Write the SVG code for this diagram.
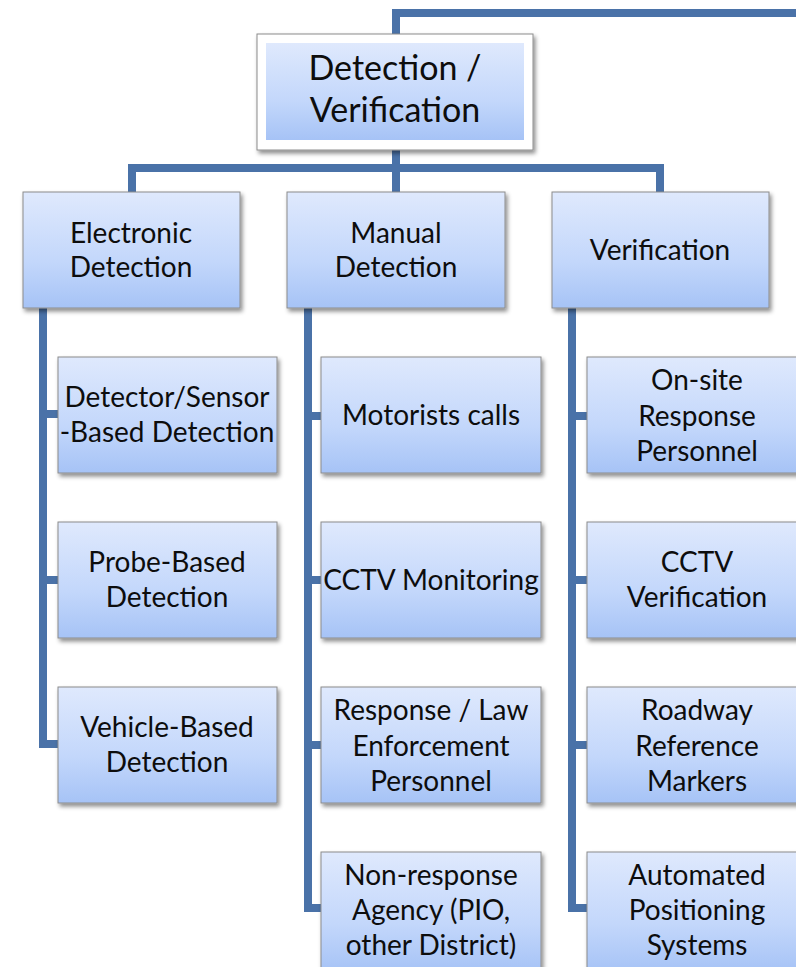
<svg xmlns="http://www.w3.org/2000/svg" width="796" height="967" viewBox="0 0 796 967">
<defs>
<linearGradient id="g" x1="0" y1="0" x2="0" y2="1">
<stop offset="0" stop-color="#dfe9fd"/>
<stop offset="0.6" stop-color="#c3d7fb"/>
<stop offset="1" stop-color="#a6c3f6"/>
</linearGradient>
<filter id="sh" x="-10%" y="-10%" width="130%" height="130%">
<feDropShadow dx="2" dy="3" stdDeviation="2" flood-color="#000" flood-opacity="0.45"/>
</filter>
</defs>
<style>
.c{fill:none;stroke:#4a72a8;stroke-width:8;stroke-linejoin:miter;stroke-linecap:butt}
.b{fill:url(#g);stroke:#8c8c8c;stroke-width:1;filter:url(#sh)}
.t{font-family:Lato,"Open Sans",sans-serif;font-size:28px;fill:#0d0d0d;text-anchor:middle}
.tt{font-family:Lato,"Open Sans",sans-serif;font-size:34px;fill:#0d0d0d;text-anchor:middle}
</style>
<rect width="796" height="967" fill="#fff"/>
<g id="connectors">
<path class="c" d="M396,40 V13 H800"/>
<path class="c" d="M396,145 V196"/>
<path class="c" d="M132,196 V168 H660 V196"/>
<path class="c" d="M43,304 V744 H62 M43,414 H62 M43,580 H62"/>
<path class="c" d="M308,304 V908 H325 M308,416 H325 M308,580 H325 M308,745 H325"/>
<path class="c" d="M572,304 V908 H591 M572,416 H591 M572,580 H591 M572,745 H591"/>
</g>
<g id="top">
<rect x="257" y="34" width="276" height="116" fill="#fff" stroke="#8c8c8c" stroke-width="1" filter="url(#sh)"/>
<rect x="266" y="43" width="258" height="97" fill="url(#g)"/>
<text class="tt" x="395" y="80">Detection /</text>
<text class="tt" x="395" y="122">Verification</text>
</g>
<g id="electronic">
<rect class="b" x="23" y="192" width="217" height="116"/>
<text class="t" x="131" y="243">Electronic</text>
<text class="t" x="131" y="277">Detection</text>
</g>
<g id="manual">
<rect class="b" x="287" y="192" width="218" height="116"/>
<text class="t" x="396" y="243">Manual</text>
<text class="t" x="396" y="277">Detection</text>
</g>
<g id="verification">
<rect class="b" x="552" y="192" width="217" height="116"/>
<text class="t" x="660" y="260">Verification</text>
</g>
<g id="detector">
<rect class="b" x="58" y="357" width="219" height="116"/>
<text class="t" x="167" y="407">Detector/Sensor</text>
<text class="t" x="167" y="442">-Based Detection</text>
</g>
<g id="probe">
<rect class="b" x="58" y="522" width="219" height="116"/>
<text class="t" x="167" y="572">Probe-Based</text>
<text class="t" x="167" y="607">Detection</text>
</g>
<g id="vehicle">
<rect class="b" x="58" y="687" width="219" height="116"/>
<text class="t" x="167" y="737">Vehicle-Based</text>
<text class="t" x="167" y="772">Detection</text>
</g>
<g id="motorists">
<rect class="b" x="321" y="357" width="220" height="116"/>
<text class="t" x="431" y="425">Motorists calls</text>
</g>
<g id="cctv-monitoring">
<rect class="b" x="321" y="522" width="220" height="116"/>
<text class="t" x="431" y="590">CCTV Monitoring</text>
</g>
<g id="response-law">
<rect class="b" x="321" y="687" width="220" height="116"/>
<text class="t" x="431" y="720">Response / Law</text>
<text class="t" x="431" y="756">Enforcement</text>
<text class="t" x="431" y="791">Personnel</text>
</g>
<g id="non-response">
<rect class="b" x="321" y="852" width="220" height="120"/>
<text class="t" x="431" y="885">Non-response</text>
<text class="t" x="431" y="920">Agency (PIO,</text>
<text class="t" x="431" y="955">other District)</text>
</g>
<g id="onsite">
<rect class="b" x="587" y="357" width="220" height="116"/>
<text class="t" x="697" y="390">On-site</text>
<text class="t" x="697" y="426">Response</text>
<text class="t" x="697" y="461">Personnel</text>
</g>
<g id="cctv-verification">
<rect class="b" x="587" y="522" width="220" height="116"/>
<text class="t" x="697" y="572">CCTV</text>
<text class="t" x="697" y="607">Verification</text>
</g>
<g id="roadway">
<rect class="b" x="587" y="687" width="220" height="116"/>
<text class="t" x="697" y="720">Roadway</text>
<text class="t" x="697" y="756">Reference</text>
<text class="t" x="697" y="791">Markers</text>
</g>
<g id="automated">
<rect class="b" x="587" y="852" width="220" height="120"/>
<text class="t" x="697" y="885">Automated</text>
<text class="t" x="697" y="920">Positioning</text>
<text class="t" x="697" y="955">Systems</text>
</g>
</svg>
